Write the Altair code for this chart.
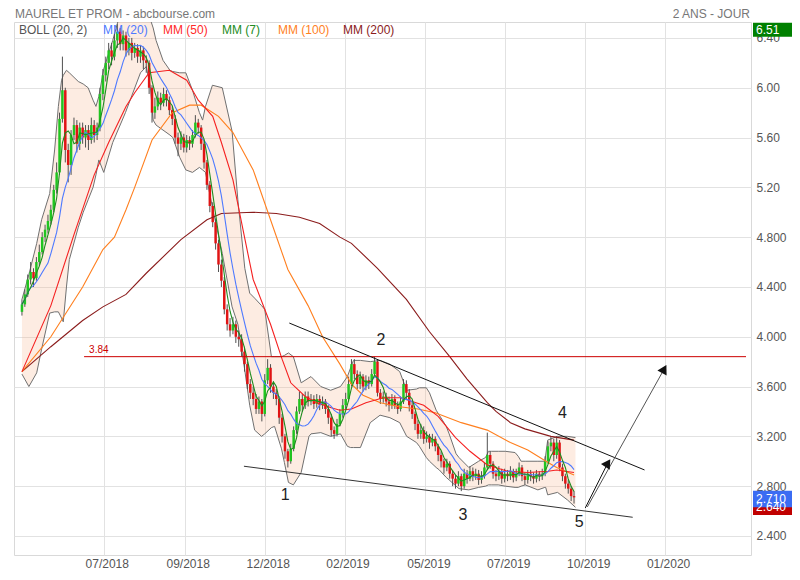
import altair as alt
import pandas as pd

# ---------------- data ----------------
TITLE = "MAUREL ET PROM - abcbourse.com"
PERIOD = "2 ANS - JOUR"

X_TICKS = [28.3, 56.3, 84.0, 111.6, 139.6, 167.2, 194.9, 222.5]
X_LABELS = ["07/2018", "09/2018", "12/2018", "02/2019", "05/2019", "07/2019", "10/2019", "01/2020"]
Y_TICKS = [2.4, 2.8, 3.2, 3.6, 4.0, 4.4, 4.8, 5.2, 5.6, 6.0, 6.4]

FIRST_OPEN = 4.20
CLOSE = [
    4.26, 4.34, 4.46, 4.52, 4.47, 4.60, 4.68, 4.80, 4.86, 4.93,
    5.02, 5.18, 5.32, 5.75, 5.98, 5.50, 5.38, 5.62, 5.70, 5.55,
    5.68, 5.60, 5.66, 5.58, 5.70, 5.62, 5.68, 5.95, 6.10, 6.20,
    6.30, 6.25, 6.38, 6.45, 6.35, 6.42, 6.30, 6.36, 6.28, 6.32,
    6.25, 6.30, 6.22, 6.20, 6.00, 5.80, 5.85, 5.92, 5.88, 5.95,
    5.90, 5.82, 5.75, 5.60, 5.55, 5.60, 5.52, 5.58, 5.55, 5.62,
    5.72, 5.68, 5.55, 5.40, 5.22, 5.05, 4.92, 4.75, 4.58, 4.45,
    4.22, 4.10, 4.05, 4.10, 4.00, 3.98, 3.88, 3.78, 3.62, 3.55,
    3.50, 3.42, 3.48, 3.38, 3.65, 3.75, 3.60, 3.55, 3.50, 3.35,
    3.20, 3.08, 3.00, 3.10, 3.25, 3.40, 3.50, 3.45, 3.52, 3.48,
    3.50, 3.46, 3.50, 3.45, 3.48, 3.42, 3.35, 3.25, 3.22, 3.30,
    3.38, 3.45, 3.50, 3.62, 3.78, 3.70, 3.62, 3.68, 3.60, 3.65,
    3.62, 3.70, 3.80, 3.55, 3.50, 3.52, 3.48, 3.45, 3.50, 3.45,
    3.42, 3.48, 3.62, 3.55, 3.45, 3.38, 3.30, 3.22, 3.25, 3.18,
    3.20, 3.15, 3.18, 3.12, 3.05, 3.00, 2.95, 2.98, 2.90, 2.86,
    2.82, 2.88, 2.80, 2.90, 2.86, 2.92, 2.88, 2.90, 2.85, 2.88,
    2.95, 3.05, 2.98, 2.90, 2.88, 2.92, 2.86, 2.90, 2.88, 2.92,
    2.87, 2.90, 2.95, 2.88, 2.85, 2.90, 2.88, 2.86, 2.90, 2.88,
    2.90, 3.00, 3.12, 3.15, 3.05, 3.15, 2.95, 2.88, 2.82, 2.78,
    2.72, 2.71,
]
HIGH = [
    4.30, 4.38, 4.50, 4.60, 4.55, 4.64, 4.74, 4.84, 4.90, 4.98,
    5.06, 5.22, 5.40, 5.80, 6.25, 6.00, 5.55, 5.66, 5.76, 5.74,
    5.72, 5.72, 5.70, 5.70, 5.76, 5.74, 5.72, 6.00, 6.15, 6.25,
    6.36, 6.36, 6.44, 6.51, 6.48, 6.46, 6.45, 6.40, 6.40, 6.36,
    6.35, 6.34, 6.33, 6.26, 6.22, 6.02, 5.92, 5.97, 5.96, 6.00,
    5.98, 5.93, 5.85, 5.78, 5.64, 5.65, 5.63, 5.62, 5.61, 5.66,
    5.78, 5.75, 5.70, 5.58, 5.42, 5.25, 5.08, 4.95, 4.78, 4.62,
    4.48, 4.26, 4.15, 4.16, 4.13, 4.05, 4.02, 3.92, 3.80, 3.66,
    3.60, 3.54, 3.52, 3.50, 3.70, 3.82, 3.78, 3.64, 3.58, 3.52,
    3.38, 3.22, 3.10, 3.14, 3.28, 3.44, 3.56, 3.54, 3.56, 3.56,
    3.54, 3.53, 3.54, 3.53, 3.52, 3.50, 3.45, 3.38, 3.28, 3.34,
    3.42, 3.50, 3.55, 3.68, 3.82, 3.82, 3.73, 3.72, 3.70, 3.69,
    3.68, 3.74, 3.84, 3.82, 3.58, 3.56, 3.55, 3.52, 3.54, 3.53,
    3.48, 3.52, 3.66, 3.65, 3.58, 3.48, 3.40, 3.33, 3.30, 3.28,
    3.24, 3.22, 3.22, 3.20, 3.14, 3.08, 3.02, 3.02, 3.00, 2.93,
    2.89, 2.92, 2.90, 2.94, 2.93, 2.96, 2.95, 2.94, 2.93, 2.92,
    2.99, 3.23, 3.08, 3.00, 2.93, 2.96, 2.94, 2.94, 2.93, 2.96,
    2.94, 2.94, 2.99, 2.97, 2.91, 2.93, 2.93, 2.91, 2.93, 2.92,
    2.94, 3.04, 3.16, 3.20, 3.18, 3.20, 3.17, 2.98, 2.90, 2.85,
    2.80, 2.76,
]
LOW = [
    4.17, 4.24, 4.32, 4.42, 4.40, 4.45, 4.57, 4.66, 4.76, 4.83,
    4.90, 5.00, 5.15, 5.30, 5.72, 5.40, 5.24, 5.30, 5.58, 5.48,
    5.50, 5.55, 5.52, 5.50, 5.55, 5.56, 5.58, 5.65, 5.90, 6.05,
    6.15, 6.18, 6.22, 6.32, 6.30, 6.30, 6.25, 6.26, 6.22, 6.24,
    6.20, 6.20, 6.15, 6.12, 5.95, 5.72, 5.75, 5.82, 5.82, 5.85,
    5.85, 5.78, 5.70, 5.55, 5.45, 5.50, 5.48, 5.48, 5.50, 5.52,
    5.60, 5.63, 5.50, 5.35, 5.18, 5.00, 4.88, 4.70, 4.52, 4.40,
    4.18, 4.05, 4.00, 4.02, 3.95, 3.92, 3.84, 3.72, 3.58, 3.50,
    3.45, 3.38, 3.38, 3.32, 3.36, 3.62, 3.55, 3.50, 3.45, 3.30,
    3.15, 3.02, 2.95, 2.98, 3.08, 3.22, 3.38, 3.40, 3.42, 3.44,
    3.45, 3.42, 3.43, 3.41, 3.42, 3.38, 3.30, 3.20, 3.18, 3.20,
    3.28, 3.35, 3.42, 3.48, 3.60, 3.66, 3.58, 3.58, 3.56, 3.57,
    3.58, 3.60, 3.68, 3.52, 3.46, 3.47, 3.44, 3.40, 3.42, 3.42,
    3.38, 3.40, 3.46, 3.50, 3.40, 3.34, 3.25, 3.18, 3.18, 3.14,
    3.15, 3.10, 3.12, 3.08, 3.00, 2.95, 2.90, 2.92, 2.86, 2.80,
    2.78, 2.80, 2.76, 2.78, 2.82, 2.84, 2.84, 2.85, 2.81, 2.82,
    2.86, 2.93, 2.94, 2.86, 2.84, 2.85, 2.82, 2.83, 2.84, 2.85,
    2.83, 2.84, 2.88, 2.84, 2.81, 2.82, 2.84, 2.82, 2.83, 2.84,
    2.85, 2.88, 2.98, 3.08, 3.00, 3.02, 2.92, 2.84, 2.78, 2.74,
    2.68, 2.66,
]

# Bollinger bands (20, 2)
BB_T = [
    0.0, 2.4, 5.1, 6.8, 9.6, 11.3, 12.6, 13.7, 14.3, 15.4,
    16.4, 19.5, 21.2, 22.9, 24.6, 25.6, 26.6, 28.3, 31.4, 35.8,
    41.0, 43.0, 44.4, 45.4, 46.4, 48.8, 51.2, 52.2, 54.6, 56.7,
    59.0, 61.4, 62.5, 63.5, 65.9, 69.3, 72.7, 74.7, 77.1, 78.8,
    80.5, 82.9, 84.0, 86.3, 87.4, 89.8, 90.8, 92.2, 93.9, 96.6,
    99.3, 100.0, 103.4, 106.8, 110.2, 112.6, 113.7, 114.7, 117.1, 120.5,
    123.9, 127.3, 130.7, 133.1, 136.5, 137.5, 139.9, 141.0, 143.3, 144.4,
    146.8, 147.8, 150.2, 151.2, 154.6, 158.0, 160.4, 161.4, 162.5, 164.8,
    167.2, 170.6, 171.7, 172.7, 174.1, 178.5, 180.9, 181.2, 181.9, 185.3,
    188.7, 191.5,
]
BB_UP = [
    4.30, 4.50, 4.75, 4.94, 5.15, 5.50, 5.85, 6.06, 6.10, 6.14,
    6.12, 6.05, 6.03, 6.00, 5.90, 5.85, 5.93, 6.15, 6.38, 6.75,
    6.75, 6.65, 6.55, 6.48, 6.38, 6.22, 6.14, 6.13, 6.12, 6.12,
    5.98, 5.80, 5.74, 5.85, 6.02, 6.00, 5.65, 5.10, 4.55, 4.35,
    4.31, 4.25, 4.22, 3.84, 3.84, 3.84, 3.85, 3.87, 3.84, 3.63,
    3.67, 3.68, 3.60, 3.57, 3.60, 3.68, 3.75, 3.81, 3.81, 3.80,
    3.81, 3.78, 3.72, 3.57, 3.58, 3.59, 3.59, 3.55, 3.41, 3.37,
    3.28, 3.22, 3.06, 3.03, 2.95, 3.00, 3.03, 3.08, 3.08, 3.08,
    3.08, 3.07, 3.04, 3.00, 3.00, 3.00, 3.00, 3.05, 3.17, 3.20,
    3.20, 3.19,
]
BB_LO = [
    3.70, 3.60, 3.71, 3.90, 4.19, 4.20, 4.20, 4.15, 4.12, 4.40,
    4.62, 4.88, 5.00, 5.10, 5.20, 5.30, 5.42, 5.32, 5.56, 5.80,
    6.12, 6.17, 6.01, 5.74, 5.70, 5.66, 5.62, 5.60, 5.44, 5.34,
    5.32, 5.36, 5.34, 5.32, 5.04, 4.67, 4.24, 4.10, 3.73, 3.45,
    3.25, 3.20, 3.22, 3.27, 3.28, 3.10, 2.99, 2.83, 2.81, 2.91,
    3.20, 3.22, 3.23, 3.20, 3.22, 3.12, 3.11, 3.11, 3.11, 3.31,
    3.37, 3.35, 3.31, 3.20, 3.15, 3.12, 3.03, 3.00, 2.95, 2.93,
    2.87, 2.85, 2.80, 2.78, 2.77, 2.79, 2.80, 2.81, 2.81, 2.81,
    2.80, 2.79, 2.79, 2.80, 2.81, 2.77, 2.79, 2.79, 2.73, 2.75,
    2.69, 2.63,
]

MA50_T = [0, 10, 18, 25, 30, 36, 39, 44, 51, 57, 61, 66, 69, 73, 77, 80, 86, 90, 93, 98,
          102, 107, 110, 114, 119, 125, 131, 139, 144, 150, 155, 161, 168, 175, 182, 185, 191]
MA50_V = [3.72, 4.25, 4.82, 5.30, 5.56, 5.85, 5.96, 6.12, 6.14, 6.06, 5.90, 5.77, 5.56, 5.26, 4.80, 4.46, 4.10, 3.82, 3.63, 3.52,
          3.47, 3.43, 3.41, 3.42, 3.47, 3.51, 3.51, 3.45, 3.36, 3.19, 3.08, 2.97, 2.92, 2.91, 2.92, 2.93, 2.91]

MA100_T = [0, 10, 21, 28, 32, 36, 39, 45, 52, 58, 62, 68, 73, 80, 86, 92, 99, 104, 110, 114,
           118, 124, 130, 137, 143, 152, 161, 169, 175, 182, 185, 191]
MA100_V = [3.72, 4.00, 4.40, 4.70, 4.80, 5.02, 5.20, 5.58, 5.80, 5.86, 5.86, 5.77, 5.64, 5.34, 4.94, 4.54, 4.25, 4.00, 3.78, 3.62,
           3.53, 3.47, 3.44, 3.42, 3.39, 3.31, 3.25, 3.15, 3.09, 2.99, 2.95, 2.89]

MA200_T = [0, 10, 21, 28, 36, 43, 55, 64, 69, 80, 88, 96, 103, 110, 114, 123, 133, 141, 148, 154,
           161, 164, 169, 174, 183, 191]
MA200_V = [3.72, 3.92, 4.13, 4.24, 4.34, 4.51, 4.78, 4.94, 4.99, 5.00, 4.99, 4.96, 4.91, 4.80, 4.75, 4.55, 4.30, 4.04, 3.84, 3.66,
           3.47, 3.40, 3.31, 3.26, 3.20, 3.17]

RESISTANCE = 3.84
RES_START = 21.5
X_END = 250.5

# drawn annotations (session index, price)
TL_X1 = [92.5, 76.8, 194.9, 195.6]
TL_Y1 = [4.11, 2.96, 2.625, 2.633]
TL_X2 = [215.4, 211.3, 202.7, 222.2]
TL_Y2 = [2.93, 2.55, 2.986, 3.741]
TL_COLOR = ["#111111", "#333333", "#111111", "#555555"]
HEAD_X = [202.7, 222.2]
HEAD_Y = [2.986, 3.741]
HEAD_ANGLE = [33, 29]

NUM_LABELS = ["1", "2", "3", "4", "5"]
NUM_X = [91.1, 124.2, 152.6, 187.0, 192.8]
NUM_Y = [2.73, 3.97, 2.57, 3.39, 2.51]

TAG_LABELS = ["2.640", "2.710"]
TAG_VALUES = [2.635, 2.697]
TAG_COLORS = ["#c00000", "#3b6cf3"]
MAX_LABEL = "6.51"

LEGEND = ["BOLL (20, 2)", "MM (20)", "MM (50)", "MM (7)", "MM (100)", "MM (200)"]
LEGEND_COLORS = ["#555555", "#4d79ff", "#ff2a2a", "#228b22", "#ff7f1e", "#8b1c1c"]

# ---------------- build ----------------
FONT = "Liberation Sans"
W, H = 737, 533
XS = alt.Scale(domain=[-1.02, X_END], nice=False, zero=False)
YS = alt.Scale(domain=[2.247, 6.528], nice=False, zero=False)

N = len(CLOSE)
OPEN = [FIRST_OPEN] + CLOSE[:-1]
df = pd.DataFrame({"t": list(range(N)), "open": OPEN, "close": CLOSE, "high": HIGH, "low": LOW})
s = df["close"]
df["ma7"] = s.rolling(4, min_periods=1).mean()
df["ma20"] = s.rolling(10, min_periods=1).mean()
bb = pd.DataFrame({"t": BB_T, "up": BB_UP, "lo": BB_LO})

parts = []
for i in range(len(X_TICKS) - 1):
    mid = (X_TICKS[i] + X_TICKS[i + 1]) / 2
    parts.append(f"datum.value < {mid:.2f} ? '{X_LABELS[i]}' : ")
x_expr = "".join(parts) + f"'{X_LABELS[-1]}'"

x_axis = alt.Axis(values=X_TICKS, labelExpr=x_expr, grid=True, gridColor="#e2e2e2", ticks=False,
                  domain=False, labelColor="#555555", labelFontSize=12, labelFont=FONT, labelPadding=3,
                  labelOffset=3, labelOverlap=False, title=None)
y_axis = alt.Axis(orient="right", values=Y_TICKS,
                  labelExpr="datum.value >= 5 ? format(datum.value, '.2f') : format(datum.value, '.3f')",
                  grid=True, gridColor="#e2e2e2", ticks=False, domain=False, labelPadding=5,
                  labelColor="#555555", labelFontSize=12, labelFont=FONT, labelOverlap=False, title=None)


def X(field):
    return alt.X(f"{field}:Q", scale=XS, axis=x_axis)


def Y(field):
    return alt.Y(f"{field}:Q", scale=YS, axis=y_axis)


band = alt.Chart(bb).mark_area(color="#f6b48c", opacity=0.25, clip=True).encode(
    x=X("t"), y=Y("lo"), y2="up:Q")


def line(data, field, color, width=1.1):
    return alt.Chart(data).mark_line(color=color, strokeWidth=width, clip=True).encode(
        x=X("t"), y=Y(field))


bb_up = line(bb, "up", "#707070", 1)
bb_lo = line(bb, "lo", "#707070", 1)
ma200 = line(pd.DataFrame({"t": MA200_T, "v": MA200_V}), "v", "#8b1c1c")
ma100 = line(pd.DataFrame({"t": MA100_T, "v": MA100_V}), "v", "#ff7f1e")
ma50 = line(pd.DataFrame({"t": MA50_T, "v": MA50_V}), "v", "#f52020")
ma20 = line(df, "ma20", "#4d79ff")
ma7 = line(df, "ma7", "#1e8c1e")

wick = alt.Chart(df).mark_rule(color="#505050", strokeWidth=1, clip=True).encode(
    x=X("t"), y=Y("low"), y2="high:Q")
body = alt.Chart(df).mark_bar(width=2.5, clip=True).encode(
    x=X("t"), y=Y("open"), y2="close:Q",
    color=alt.condition("datum.close >= datum.open", alt.value("#21c421"), alt.value("#e01414")))

res_df = pd.DataFrame({"x1": [RES_START], "x2": [X_END], "y": [RESISTANCE], "lab": [f"{RESISTANCE:.2f}"]})
res = alt.Chart(res_df).mark_rule(color="#cc0000", strokeWidth=1).encode(
    x=X("x1"), x2="x2:Q", y=Y("y"))
res_lab = alt.Chart(res_df).mark_text(align="left", baseline="bottom", dx=5, dy=-2, fontSize=10,
                                      color="#cc0000", font=FONT).encode(
    x=X("x1"), y=Y("y"), text="lab:N")

tl_df = pd.DataFrame({"x1": TL_X1, "y1": TL_Y1, "x2": TL_X2, "y2": TL_Y2, "c": TL_COLOR})
tl = alt.Chart(tl_df).mark_rule(strokeWidth=1).encode(
    x=X("x1"), y=Y("y1"), x2="x2:Q", y2="y2:Q", color=alt.Color("c:N", scale=None))
heads = alt.Chart(pd.DataFrame({"x": HEAD_X, "y": HEAD_Y, "a": HEAD_ANGLE})).mark_point(
    shape="triangle-up", filled=True, opacity=1, size=110, color="#111111").encode(
    x=X("x"), y=Y("y"), angle=alt.Angle("a:Q", scale=None))

nums = alt.Chart(pd.DataFrame({"x": NUM_X, "y": NUM_Y, "l": NUM_LABELS})).mark_text(
    fontSize=16, color="#222222", font=FONT, baseline="middle").encode(
    x=X("x"), y=Y("y"), text="l:N")

tag_df = pd.DataFrame({"v": TAG_VALUES, "l": TAG_LABELS, "c": TAG_COLORS})
tag_rect = alt.Chart(tag_df).transform_calculate(
    top="datum.v + 0.067", bot="datum.v - 0.067").mark_rect().encode(
    x=alt.value(W + 2), x2=alt.value(W + 42), y=Y("top"), y2="bot:Q",
    color=alt.Color("c:N", scale=None))
tag_text = alt.Chart(tag_df).mark_text(align="left", baseline="middle", fontSize=12, color="white",
                                       font=FONT).encode(
    x=alt.value(W + 5), y=Y("v"), text="l:N")

one = pd.DataFrame({"a": [0]})
max_rect = alt.Chart(one).mark_rect(color="#008000").encode(
    x=alt.value(W + 2), x2=alt.value(W + 42), y=alt.value(0.7), y2=alt.value(14.7))
max_text = alt.Chart(one).mark_text(align="left", baseline="middle", fontSize=12, color="white",
                                    font=FONT).encode(
    x=alt.value(W + 5), y=alt.value(8), text=alt.value(MAX_LABEL))

title = alt.Chart(one).mark_text(align="left", baseline="alphabetic", fontSize=12, color="#777777",
                                 font=FONT).encode(x=alt.value(1), y=alt.value(-4), text=alt.value(TITLE))
period = alt.Chart(one).mark_text(align="right", baseline="alphabetic", fontSize=12, color="#777777",
                                  font=FONT).encode(x=alt.value(736), y=alt.value(-4), text=alt.value(PERIOD))

legend_x = [5, 89, 149, 208, 264, 329]
legend_layers = []
for lab, col, xp in zip(LEGEND, LEGEND_COLORS, legend_x):
    legend_layers.append(alt.Chart(one).mark_text(align="left", baseline="alphabetic", fontSize=12,
                                                  color=col, font=FONT).encode(
        x=alt.value(xp), y=alt.value(12), text=alt.value(lab)))

chart = alt.layer(
    band, bb_up, bb_lo, wick, body, ma200, ma100, ma50, ma20, ma7,
    res, res_lab, tl, heads, nums, tag_rect, tag_text, max_rect, max_text, title, period,
    *legend_layers,
).properties(
    width=W, height=H,
    padding={"left": 6, "top": 14, "right": 41, "bottom": 17},
    autosize=alt.AutoSizeParams(type="none"),
    background="white",
).configure(font=FONT).configure_view(stroke="#d9d9d9", strokeWidth=1)

chart.save("out.html", embed_options={"renderer": "svg", "actions": False})
